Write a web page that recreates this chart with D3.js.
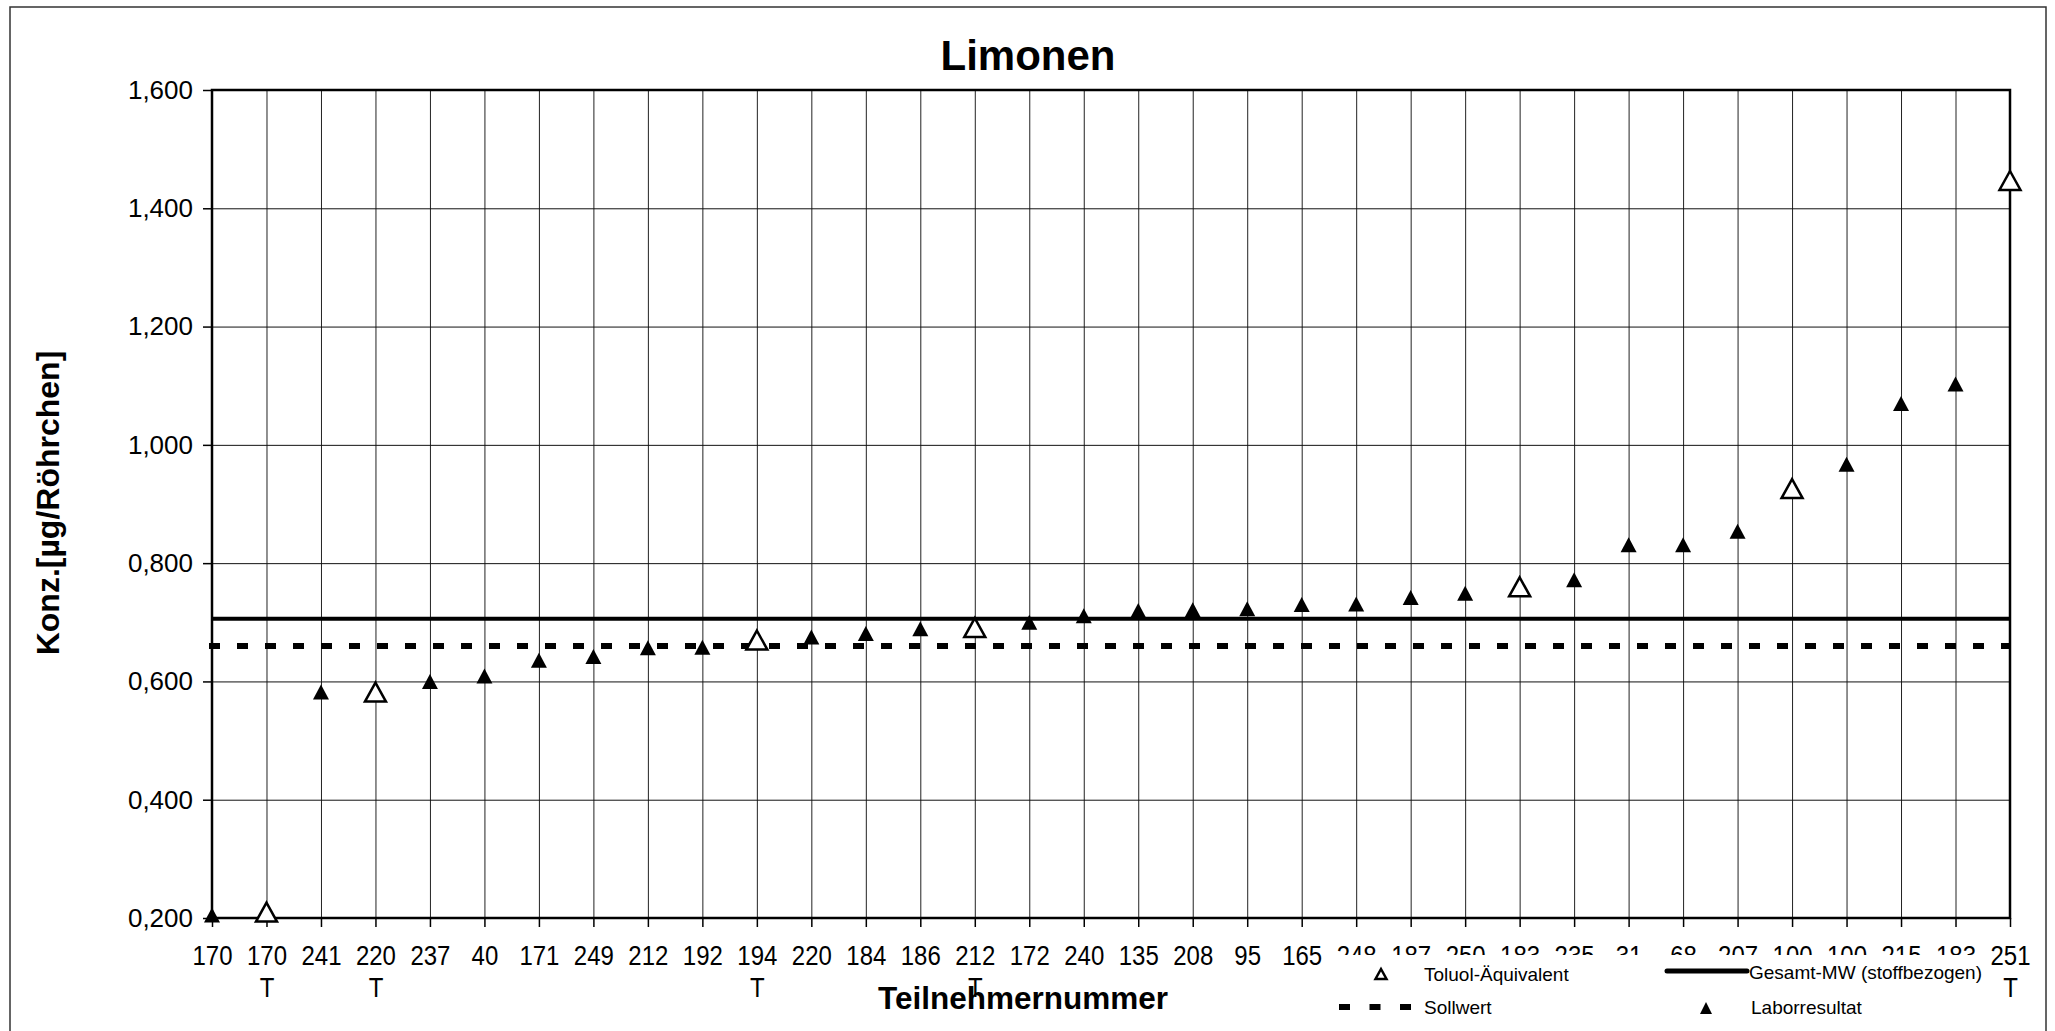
<!DOCTYPE html>
<html>
<head>
<meta charset="utf-8">
<script src="https://cdn.jsdelivr.net/npm/d3@7"></script>
<style>
  html, body { margin: 0; padding: 0; background: #fff; }
  svg { display: block; font-family: "Liberation Sans", Arial, sans-serif; }
</style>
</head>
<body>
<script>
const width = 2055;
const height = 1031;

// Teilnehmernummern, in der Reihenfolge der Grafik
const categories = ["170", "170", "241", "220", "237", "40", "171", "249", "212", "192",
    "194", "220", "184", "186", "212", "172", "240", "135", "208", "95",
    "165", "248", "187", "250", "183", "235", "31", "68", "207", "100",
    "100", "215", "183", "251"];
// 1 = Toluol-Äquivalent (offenes Dreieck, Beschriftung "T")
const toluol = [0, 1, 0, 1, 0, 0, 0, 0, 0, 0,
    1, 0, 0, 0, 1, 0, 0, 0, 0, 0,
    0, 0, 0, 0, 1, 0, 0, 0, 0, 1,
    0, 0, 0, 1];
const values = [0.205, 0.210, 0.582, 0.582, 0.600, 0.609, 0.636, 0.642, 0.657, 0.658,
    0.670, 0.675, 0.681, 0.689, 0.691, 0.700, 0.711, 0.720, 0.721, 0.723,
    0.730, 0.731, 0.742, 0.749, 0.760, 0.772, 0.831, 0.831, 0.854, 0.926,
    0.967, 1.070, 1.103, 1.447];
const gesamtMW = 0.706;
const sollwert = 0.660;
const yTicks = [0.2, 0.4, 0.6, 0.8, 1.0, 1.2, 1.4, 1.6];

const margin = {left: 212, top: 90, right: 2010, bottom: 918};
const SY = 1.15;  // text in the original looks a bit stretched vertically

const svg = d3.select("body").append("svg")
    .attr("width", width)
    .attr("height", height);

// outer chart border
svg.append("rect")
    .attr("x", 10).attr("y", 7)
    .attr("width", 2036).attr("height", 1040)
    .attr("fill", "#fff")
    .attr("stroke", "#333")
    .attr("stroke-width", 1.5);

const x = d3.scalePoint()
    .domain(d3.range(categories.length))
    .range([margin.left, margin.right]);

const y = d3.scaleLinear()
    .domain([0.2, 1.6])
    .range([margin.bottom, margin.top]);

const fmt = d => d.toFixed(3).replace(".", ",");

// grid
svg.append("g")
    .attr("transform", `translate(0,${margin.bottom})`)
    .call(d3.axisBottom(x).tickSize(-(margin.bottom - margin.top)).tickFormat(""))
    .call(g => g.select(".domain").remove())
    .call(g => g.selectAll("line").attr("stroke", "#222").attr("stroke-width", 1));

svg.append("g")
    .attr("transform", `translate(${margin.left},0)`)
    .call(d3.axisLeft(y).tickValues(yTicks).tickSize(-(margin.right - margin.left)).tickFormat(""))
    .call(g => g.select(".domain").remove())
    .call(g => g.selectAll("line").attr("stroke", "#111").attr("stroke-width", 1));

// Sollwert (dashed) and Gesamt-MW (solid)
svg.append("line")
    .attr("x1", margin.left - 3).attr("x2", margin.right)
    .attr("y1", y(sollwert)).attr("y2", y(sollwert))
    .attr("stroke", "#000")
    .attr("stroke-width", 6)
    .attr("stroke-dasharray", "11,17");

svg.append("line")
    .attr("x1", margin.left).attr("x2", margin.right)
    .attr("y1", y(gesamtMW)).attr("y2", y(gesamtMW))
    .attr("stroke", "#000")
    .attr("stroke-width", 4);

// plot frame
svg.append("rect")
    .attr("x", margin.left).attr("y", margin.top)
    .attr("width", margin.right - margin.left)
    .attr("height", margin.bottom - margin.top)
    .attr("fill", "none")
    .attr("stroke", "#000")
    .attr("stroke-width", 2.5);

// y axis
svg.append("g")
    .attr("transform", `translate(${margin.left},0)`)
    .call(d3.axisLeft(y).tickValues(yTicks).tickSize(9).tickPadding(10).tickFormat(fmt))
    .call(g => g.select(".domain").remove())
    .call(g => g.selectAll("line").attr("stroke", "#000").attr("stroke-width", 1.5))
    .call(g => g.selectAll("text")
        .attr("font-size", 26)
        .attr("fill", "#000")
        .attr("font-family", "'Liberation Sans', Arial, sans-serif"));

// x axis
const xAxis = svg.append("g")
    .attr("transform", `translate(0,${margin.bottom})`)
    .call(d3.axisBottom(x).tickSize(9).tickFormat(i => categories[i]))
    .call(g => g.select(".domain").remove())
    .call(g => g.selectAll("line").attr("stroke", "#000").attr("stroke-width", 1.5));

xAxis.selectAll("text")
    .attr("y", 27 / SY)
    .attr("dy", "0.71em")
    .attr("transform", `scale(1,${SY})`)
    .attr("font-size", 24)
    .attr("fill", "#000")
    .attr("font-family", "'Liberation Sans', Arial, sans-serif");

xAxis.selectAll(".tick")
    .filter(i => toluol[i] === 1)
    .append("text")
    .attr("y", 59 / SY)
    .attr("dy", "0.71em")
    .attr("transform", `scale(1,${SY})`)
    .attr("text-anchor", "middle")
    .attr("font-size", 24)
    .attr("fill", "#000")
    .attr("font-family", "'Liberation Sans', Arial, sans-serif")
    .text("T");

// markers
function tri(w, h) {
    return `M0,${-h / 2}L${w / 2},${h / 2}L${-w / 2},${h / 2}Z`;
}

const pts = svg.append("g");
values.forEach((v, i) => {
    if (toluol[i]) {
        pts.append("path")
            .attr("d", tri(21, 19))
            .attr("transform", `translate(${x(i)},${y(v)})`)
            .attr("fill", "#fff")
            .attr("stroke", "#000")
            .attr("stroke-width", 2.5)
            .attr("stroke-linejoin", "miter");
    } else {
        pts.append("path")
            .attr("d", tri(16, 15))
            .attr("transform", `translate(${x(i)},${y(v)})`)
            .attr("fill", "#000");
    }
});

// titles
svg.append("text")
    .attr("x", 1028).attr("y", 70)
    .attr("text-anchor", "middle")
    .attr("font-size", 42)
    .attr("font-weight", "bold")
    .text("Limonen");

svg.append("text")
    .attr("transform", "translate(59,503) rotate(-90)")
    .attr("text-anchor", "middle")
    .attr("font-size", 32)
    .attr("font-weight", "bold")
    .text("Konz.[µg/Röhrchen]");

svg.append("text")
    .attr("x", 1023).attr("y", 1009)
    .attr("text-anchor", "middle")
    .attr("font-size", 31.5)
    .attr("font-weight", "bold")
    .text("Teilnehmernummer");

// legend
const legend = svg.append("g");
legend.append("rect")
    .attr("x", 1330).attr("y", 955)
    .attr("width", 652).attr("height", 76)
    .attr("fill", "#fff");

legend.append("path")
    .attr("d", tri(11, 10))
    .attr("transform", "translate(1381,974)")
    .attr("fill", "#fff")
    .attr("stroke", "#000")
    .attr("stroke-width", 2.5);
legend.append("text")
    .attr("x", 1424).attr("y", 981)
    .attr("font-size", 19)
    .text("Toluol-Äquivalent");

legend.append("line")
    .attr("x1", 1339).attr("x2", 1412)
    .attr("y1", 1007).attr("y2", 1007)
    .attr("stroke", "#000")
    .attr("stroke-width", 6)
    .attr("stroke-dasharray", "11,19.5");
legend.append("text")
    .attr("x", 1424).attr("y", 1014)
    .attr("font-size", 19)
    .text("Sollwert");

legend.append("line")
    .attr("x1", 1667).attr("x2", 1747)
    .attr("y1", 971).attr("y2", 971)
    .attr("stroke", "#000")
    .attr("stroke-width", 5)
    .attr("stroke-linecap", "round");
legend.append("text")
    .attr("x", 1749).attr("y", 979)
    .attr("font-size", 19)
    .text("Gesamt-MW (stoffbezogen)");

legend.append("path")
    .attr("d", tri(12, 12))
    .attr("transform", "translate(1706,1008)")
    .attr("fill", "#000");
legend.append("text")
    .attr("x", 1751).attr("y", 1014)
    .attr("font-size", 19)
    .text("Laborresultat");
</script>
</body>
</html>
